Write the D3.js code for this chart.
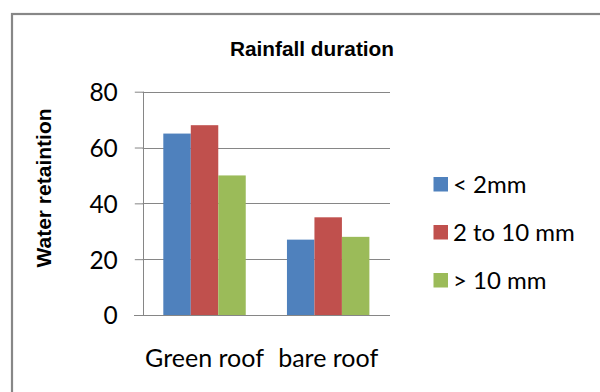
<!DOCTYPE html>
<html>
<head>
<meta charset="utf-8">
<script src="https://cdn.jsdelivr.net/npm/d3@7"></script>
<style>
  html, body { margin: 0; padding: 0; background: #fff; }
  svg { display: block; }
</style>
</head>
<body>
<svg id="chart" width="600" height="392"></svg>
<script>
const categories = ["Green roof", "bare roof"];
const seriesNames = ["< 2mm", "2 to 10 mm", "> 10 mm"];
const seriesLess2 = [65, 27];
const series2to10 = [68, 35];
const seriesOver10 = [50, 28];
const yTicks = [0, 20, 40, 60, 80];
const colors = ["#4F81BD", "#C0504D", "#9BBB59"];
const title = "Rainfall duration";
const yTitle = "Water retaintion";

const seriesValues = [seriesLess2, series2to10, seriesOver10];

const svg = d3.select("#chart");
const W = 600, H = 392;
const plot = { left: 142.7, right: 390, top: 91.7, bottom: 315 };
const labelFont = "Lato, 'Noto Sans', sans-serif";
const boldFont = "'Liberation Sans', Arial, sans-serif";
const gridColor = "#868686";

// outer frame
svg.append("rect")
  .attr("x", 12).attr("y", 14)
  .attr("width", W + 20).attr("height", H + 20)
  .attr("fill", "#fff")
  .attr("stroke", "#878787").attr("stroke-width", 2.2);

const x0 = d3.scaleBand().domain(categories)
  .range([plot.left, plot.right])
  .paddingInner(1 / 3).paddingOuter(1 / 6);
const x1 = d3.scaleBand().domain(seriesNames).range([0, x0.bandwidth()]);
const y = d3.scaleLinear().domain([0, 80]).range([plot.bottom, plot.top]);

// gridlines
svg.append("g").selectAll("line").data(yTicks.filter(d => d > 0)).join("line")
  .attr("x1", plot.left).attr("x2", plot.right)
  .attr("y1", d => Math.round(y(d)) + 0.5).attr("y2", d => Math.round(y(d)) + 0.5)
  .attr("stroke", gridColor).attr("stroke-width", 1);

// bars
const groups = svg.append("g").selectAll("g").data(categories).join("g")
  .attr("transform", c => `translate(${x0(c)},0)`);
groups.selectAll("rect")
  .data((c, ci) => seriesNames.map((s, si) => ({ s, si, v: seriesValues[si][ci] })))
  .join("rect")
  .attr("x", d => x1(d.s))
  .attr("width", x1.bandwidth())
  .attr("y", d => y(d.v))
  .attr("height", d => y(0) - y(d.v))
  .attr("fill", d => colors[d.si]);

// y axis
const yAxis = d3.axisLeft(y).tickValues(yTicks).tickSize(8.7).tickPadding(17).tickFormat(d3.format("d"));
const gy = svg.append("g").attr("transform", `translate(${Math.round(plot.left) + 0.5},0)`).call(yAxis);
gy.select(".domain").attr("stroke", gridColor).attr("d", `M0,${plot.top}V${plot.bottom}`);
gy.selectAll(".tick line").attr("stroke", gridColor);
gy.selectAll(".tick text").attr("font-family", labelFont).attr("font-size", 24.5).attr("fill", "#000")
  .attr("dy", "0.36em");

// x axis baseline
svg.append("line")
  .attr("x1", 134).attr("x2", plot.right)
  .attr("y1", Math.round(plot.bottom) + 0.5).attr("y2", Math.round(plot.bottom) + 0.5)
  .attr("stroke", gridColor);

// category labels
svg.append("g").selectAll("text").data(categories).join("text")
  .attr("x", c => x0(c) + x0.bandwidth() / 2)
  .attr("y", 366.5)
  .attr("text-anchor", "middle")
  .attr("font-family", labelFont).attr("font-size", 25).attr("fill", "#000")
  .text(c => c);

// title
svg.append("text")
  .attr("x", 312).attr("y", 56)
  .attr("text-anchor", "middle")
  .attr("font-family", boldFont).attr("font-weight", "bold").attr("font-size", 20.8)
  .text(title);

// y title
svg.append("text")
  .attr("transform", "translate(51,188) rotate(-90)")
  .attr("text-anchor", "middle")
  .attr("font-family", boldFont).attr("font-weight", "bold").attr("font-size", 21)
  .text(yTitle);

// legend
const legendY = d3.scalePoint().domain(seriesNames).range([184, 280]);
const lg = svg.append("g").selectAll("g").data(seriesNames).join("g")
  .attr("transform", s => `translate(433.5,${legendY(s)})`);
lg.append("rect").attr("x", 0).attr("y", -7).attr("width", 14.5).attr("height", 14.5)
  .attr("fill", (s, i) => colors[i]);
lg.append("text").attr("x", 19.5).attr("y", 8.5)
  .attr("font-family", labelFont).attr("font-size", 24).attr("fill", "#000")
  .text(s => s);
</script>
</body>
</html>
